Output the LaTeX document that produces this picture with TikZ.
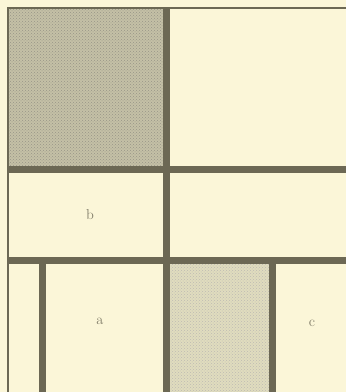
\documentclass[tikz,border=0pt]{standalone}
\usepackage{tikz}
\usetikzlibrary{patterns}

\definecolor{paper}{RGB}{251,246,216}
\definecolor{rule}{RGB}{108,104,84}
\definecolor{darktone}{RGB}{196,192,166}
\definecolor{lighttone}{RGB}{224,220,190}
\definecolor{labelgray}{RGB}{130,126,106}

\begin{document}
\begin{tikzpicture}[x=1pt, y=-1pt,
  % Thin frame lines at top and left
  thinrule/.style={draw=rule, line width=2.5pt},
  % Thick dividing bars
  thickrule/.style={draw=rule, line width=7pt},
  darkcell/.style={fill=darktone, postaction={pattern=crosshatch dots, pattern color=rule!70}},
  lightcell/.style={fill=lighttone, postaction={pattern=crosshatch dots, pattern color=rule!45}},
  celllabel/.style={font=\Large, text=labelgray, inner sep=0pt}
]
  % Paper
  \fill[paper] (0,0) rectangle (346,392);
  \useasboundingbox (0,0) rectangle (346,392);

  % Shaded cells
  \fill[darkcell] (8,8) rectangle (166,169);
  \fill[lightcell] (166,260) rectangle (272,392);

  % Frame corner
  \coordinate (topleft) at (8,8);
  \coordinate (topright) at (346,8);
  \coordinate (bottomleft) at (8,392);
  \draw[thinrule] (topright) -- (topleft) -- (bottomleft);

  % Thick bars
  \coordinate (midtop) at (166,8);
  \coordinate (midbottom) at (166,392);
  \draw[thickrule] (midtop) -- (midbottom);
  \draw[thickrule] (8,169) -- (346,169);
  \draw[thickrule] (8,260) -- (346,260);
  \draw[thickrule] (42,260) -- (42,392);
  \draw[thickrule] (272,260) -- (272,392);

  % Cell labels
  \node[celllabel] (b) at (90,215) {b};
  \node[celllabel] (a) at (100,321) {a};
  \node[celllabel] (c) at (312,323) {c};
\end{tikzpicture}
\end{document}
